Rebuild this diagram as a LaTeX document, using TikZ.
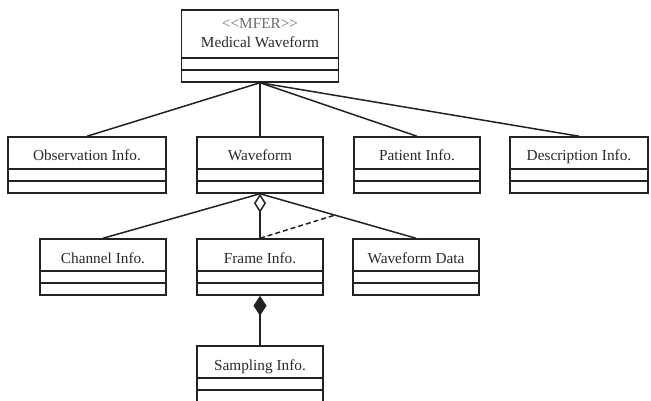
\documentclass[tikz,border=0pt]{standalone}
\usepackage{fontspec}
\setmainfont{Liberation Serif}
\usetikzlibrary{arrows.meta}
\definecolor{linec}{HTML}{222222}
\definecolor{textc}{HTML}{2A2A2A}
\definecolor{stereoc}{HTML}{6E6E6E}
\begin{document}
\begin{tikzpicture}[x=1pt,y=-1pt,
  compartments/.style={
    path picture={
      \draw[linec, line width=1.5pt]
        ([yshift=24pt]path picture bounding box.south west) -- ([yshift=24pt]path picture bounding box.south east)
        ([yshift=12pt]path picture bounding box.south west) -- ([yshift=12pt]path picture bounding box.south east);
    }},
  cls/.style={draw=linec, line width=1.5pt, fill=white, inner xsep=0pt, inner ysep=0pt,
    text height=24pt, text depth=32pt, text=textc,
    font=\fontsize{15.3}{18}\selectfont, compartments},
  topcls/.style={draw=linec, line width=1.5pt, fill=white, inner sep=0pt, compartments},
  link/.style={draw=linec, line width=1.5pt},
  classtext/.style={inner sep=0pt, align=center, text=textc, font=\fontsize{15.3}{19}\selectfont}
]
\useasboundingbox[fill=white] (0,0) rectangle (651,401);

% top-level class
\node[topcls, minimum width=157pt, minimum height=72pt] (mf) at (260,46) {};
\node[classtext] (mftext) at (260,33) {\textcolor{stereoc}{<\kern0pt<MFER>\kern0pt>}\\Medical Waveform};

% second row
\node[cls, minimum width=158pt] (obs) at (87,165) {Observation Info.};
\node[cls, minimum width=126pt] (wf) at (260,165) {Waveform};
\node[cls, minimum width=126pt] (pat) at (417,165) {Patient Info.};
\node[cls, minimum width=138pt] (desc) at (579,165) {Description Info.};

% third row
\node[cls, minimum width=126pt] (ch) at (103,267) {Channel Info.};
\node[cls, minimum width=126pt] (fr) at (260,267) {Frame Info.};
\node[cls, minimum width=126pt] (wd) at (416,267) {Waveform Data};

% fourth row
\node[cls, minimum width=126pt] (samp) at (260,374) {Sampling Info.};

% associations from the top class
\draw[link] (mf.south) -- (obs.north);
\draw[link] (mf.south) -- (wf.north);
\draw[link] (mf.south) -- (pat.north);
\draw[link] (mf.south) -- (desc.north);

% associations below Waveform
\draw[link] (wf.south) -- (ch.north);
\draw[link] (wf.south) -- coordinate[pos=0.48] (wdmid) (wd.north);
\draw[link, -{Diamond[open, length=19pt, width=12pt, line width=1.5pt]}] (fr.north) -- (wf.south);
\draw[link, dashed, dash pattern=on 5pt off 3pt] (fr.north) -- (wdmid);

% composition
\draw[link, -{Diamond[length=20pt, width=13pt]}] (samp.north) -- (fr.south);
\end{tikzpicture}
\end{document}
